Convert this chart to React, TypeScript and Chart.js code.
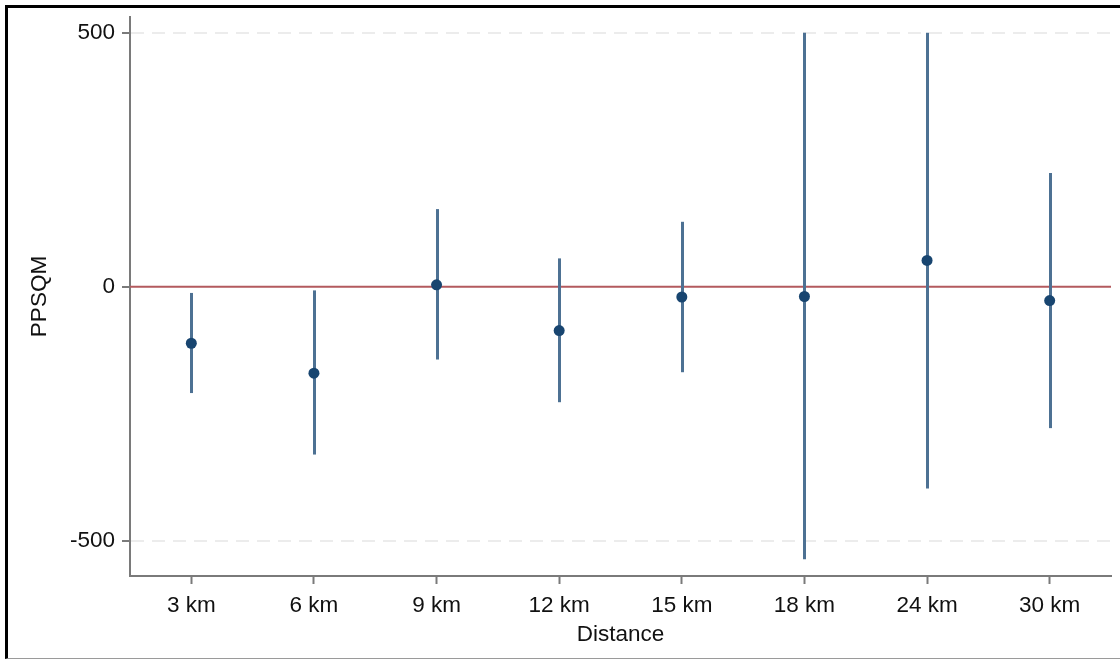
import React, { useEffect, useRef } from "react";
import { Chart, registerables } from "chart.js";

Chart.register(...registerables);

// Distance bands on the x axis
const categories = ["3 km", "6 km", "9 km", "12 km", "15 km", "18 km", "24 km", "30 km"];
// Point estimates of PPSQM
const estimates = [-111, -170, 4, -86, -20, -19, 52, -27];
// Confidence interval bounds
const lowerBounds = [-209, -330, -143, -227, -168, -536, -397, -278];
const upperBounds = [-12, -7, 153, 56, 128, 500, 500, 224];
// Labelled y ticks
const yTicks = [-500, 0, 500];

const FONT = "'Liberation Sans', Arial, Helvetica, sans-serif";
const FONT_SIZE = 22.5;

// Vertical interval lines, drawn beneath the points
const intervalPlugin = {
  id: "intervals",
  beforeDatasetsDraw(chart: any) {
    const { ctx, scales } = chart;
    const xs = scales.x;
    const ys = scales.y;
    ctx.save();
    ctx.strokeStyle = "#4d7193";
    ctx.lineWidth = 3;
    ctx.lineCap = "butt";
    categories.forEach((_, i) => {
      const x = Math.round(xs.getPixelForValue(i)) + 0.5;
      ctx.beginPath();
      ctx.moveTo(x, ys.getPixelForValue(lowerBounds[i]));
      ctx.lineTo(x, ys.getPixelForValue(upperBounds[i]));
      ctx.stroke();
    });
    ctx.restore();
  },
};

// Reference line at zero across the plot area
const zeroLinePlugin = {
  id: "zeroLine",
  beforeDatasetsDraw(chart: any) {
    const { ctx, chartArea, scales } = chart;
    const y = scales.y.getPixelForValue(0);
    ctx.save();
    ctx.strokeStyle = "#b35a5e";
    ctx.lineWidth = 2;
    ctx.beginPath();
    ctx.moveTo(chartArea.left, y);
    ctx.lineTo(chartArea.right, y);
    ctx.stroke();
    ctx.restore();
  },
};

export default function App() {
  const canvasRef = useRef<HTMLCanvasElement | null>(null);

  useEffect(() => {
    document.body.style.margin = "0";
    document.body.style.overflow = "hidden";
    const canvas = canvasRef.current;
    if (!canvas) return;
    const chart = new Chart(canvas, {
      type: "line",
      data: {
        labels: categories,
        datasets: [
          {
            label: "PPSQM",
            data: estimates,
            showLine: false,
            pointRadius: 5.5,
            pointHoverRadius: 5.5,
            pointBackgroundColor: "#184570",
            pointBorderColor: "#184570",
            pointBorderWidth: 0,
          },
        ],
      },
      options: {
        animation: false,
        responsive: false,
        maintainAspectRatio: false,
        events: [],
        layout: { padding: { left: 22, top: 17, right: 9, bottom: 10 } },
        plugins: {
          legend: { display: false },
          tooltip: { enabled: false },
        },
        scales: {
          x: {
            type: "category",
            offset: true,
            afterFit(scale: any) {
              scale.height = 74;
              scale.paddingLeft = 0;
              scale.paddingRight = 0;
            },
            grid: {
              drawOnChartArea: false,
              drawTicks: true,
              tickLength: 8,
              tickColor: "#7a7a7a",
              tickWidth: 2,
            },
            border: { display: true, color: "#7a7a7a", width: 2 },
            ticks: {
              color: "#111",
              padding: 8,
              font: { family: FONT, size: FONT_SIZE },
              maxRotation: 0,
            },
            title: {
              display: true,
              text: "Distance",
              color: "#111",
              font: { family: FONT, size: FONT_SIZE },
              padding: { top: 0, bottom: 2 },
            },
          },
          y: {
            type: "linear",
            min: -569,
            max: 531,
            afterFit(scale: any) {
              scale.width = 130 - 22;
              scale.paddingTop = 0;
              scale.paddingBottom = 0;
            },
            afterBuildTicks(scale: any) {
              scale.ticks = yTicks.map((v) => ({ value: v }));
            },
            grid: {
              drawOnChartArea: true,
              drawTicks: true,
              tickLength: 8,
              tickWidth: 2,
              tickColor: "#7a7a7a",
              tickBorderDash: [],
              lineWidth: 2,
              color: (ctx: any) =>
                ctx.tick && ctx.tick.value === 0 ? "rgba(0,0,0,0)" : "#ececec",
            },
            border: { display: true, color: "#7a7a7a", width: 2, dash: [13, 8] },
            ticks: {
              color: "#111",
              padding: 7,
              font: { family: FONT, size: FONT_SIZE },
              callback: (v: any) => String(v),
            },
            title: {
              display: true,
              text: "PPSQM",
              color: "#111",
              font: { family: FONT, size: FONT_SIZE },
              padding: { top: 4, bottom: 4 },
            },
          },
        },
      },
      plugins: [zeroLinePlugin, intervalPlugin],
    });
    return () => chart.destroy();
  }, []);

  return (
    <div style={{ position: "relative", width: 1120, height: 660, background: "#fff" }}>
      <canvas ref={canvasRef} width={1120} height={660} style={{ display: "block" }} />
      <div
        style={{
          position: "absolute",
          left: 5,
          top: 5,
          width: 1115,
          height: 650,
          borderLeft: "3px solid #000",
          borderTop: "3px solid #000",
          borderBottom: "1px solid #9a9a9a",
          pointerEvents: "none",
        }}
      />
    </div>
  );
}
